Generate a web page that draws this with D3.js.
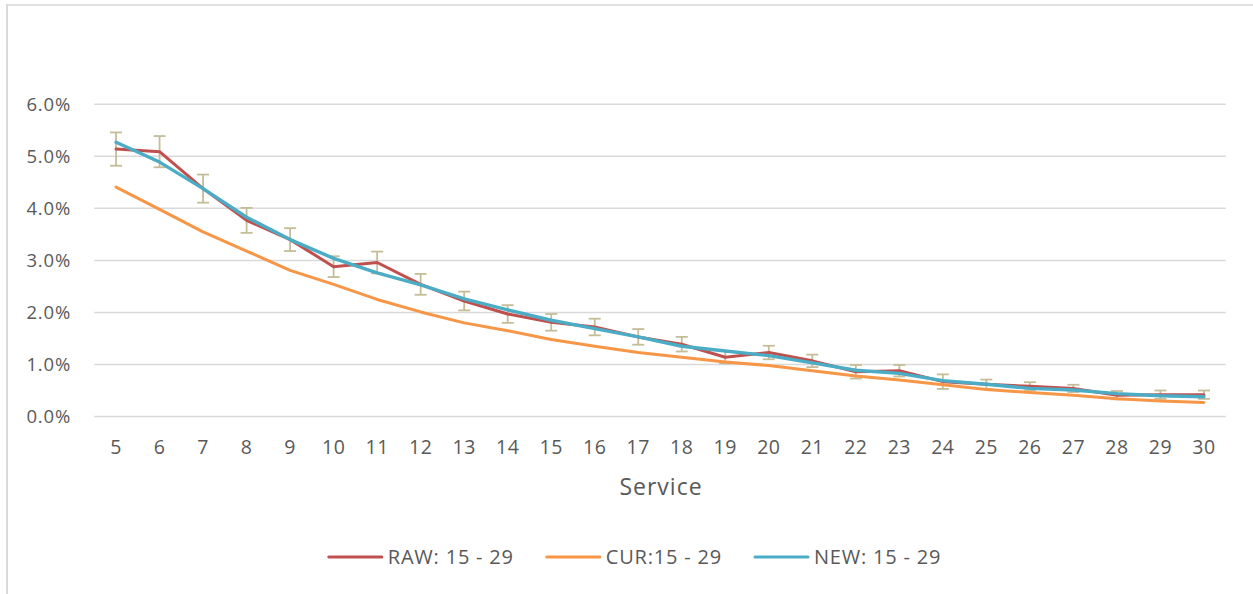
<!DOCTYPE html>
<html>
<head>
<meta charset="utf-8">
<script src="https://cdn.jsdelivr.net/npm/d3@7"></script>
<style>
  html, body { margin: 0; padding: 0; background: #ffffff; }
  svg { display: block; }
  text { font-family: "Open Sans", Lato, sans-serif; fill: #595959; }
</style>
</head>
<body>
<script>
// ---- data ----
const categories = [5,6,7,8,9,10,11,12,13,14,15,16,17,18,19,20,21,22,23,24,25,26,27,28,29,30];
const rawValues = [5.13,5.08,4.37,3.76,3.39,2.87,2.95,2.53,2.21,1.96,1.80,1.71,1.52,1.38,1.13,1.22,1.06,0.85,0.87,0.66,0.61,0.57,0.53,0.40,0.41,0.41];
const rawErrors = [0.32,0.30,0.27,0.24,0.22,0.20,0.21,0.20,0.18,0.17,0.16,0.16,0.15,0.14,0.12,0.13,0.12,0.13,0.11,0.14,0.09,0.08,0.07,0.08,0.08,0.08];
const curValues = [4.40,3.97,3.54,3.17,2.80,2.53,2.24,2.00,1.79,1.64,1.47,1.34,1.22,1.13,1.04,0.97,0.87,0.77,0.69,0.60,0.51,0.45,0.40,0.33,0.29,0.26];
const newValues = [5.26,4.88,4.37,3.82,3.39,3.03,2.75,2.52,2.25,2.04,1.84,1.68,1.52,1.34,1.25,1.16,1.02,0.88,0.82,0.68,0.61,0.53,0.50,0.43,0.39,0.37];
const yTicks = [0,1,2,3,4,5,6];
const seriesNames = ["RAW: 15 - 29", "CUR:15 - 29", "NEW: 15 - 29"];
const seriesColors = ["#c0504d", "#f79646", "#4bacc6"];
const xTitle = "Service";

// ---- layout ----
const W = 1253, H = 594;
const plot = { left: 94.3, right: 1225.7, top: 103.8, bottom: 416 };

const svg = d3.select("body").append("svg").attr("width", W).attr("height", H);

// outer border (left + top visible)
svg.append("line").attr("x1", 7).attr("x2", 7).attr("y1", 4.5).attr("y2", H)
  .attr("stroke", "#d9d9d9").attr("stroke-width", 2);
svg.append("line").attr("x1", 6).attr("x2", W).attr("y1", 5).attr("y2", 5)
  .attr("stroke", "#d9d9d9").attr("stroke-width", 1.5);

const x = d3.scaleBand().domain(categories).range([plot.left, plot.right]);
const y = d3.scaleLinear().domain([0, 6]).range([plot.bottom, plot.top]);
const cx = d => x(d) + x.bandwidth() / 2;

// gridlines + y labels
const yAxis = d3.axisLeft(y).tickValues(yTicks).tickSize(-(plot.right - plot.left))
  .tickFormat(d => d.toFixed(1) + "%").tickPadding(23);
const gy = svg.append("g").attr("transform", `translate(${plot.left},0)`).call(yAxis);
gy.select(".domain").remove();
gy.selectAll(".tick line").attr("stroke", "#d9d9d9").attr("stroke-width", 1.5);
gy.selectAll(".tick text").style("font-size", "18.5px").style("letter-spacing", "0.9px")
  .attr("fill", "#595959").attr("dy", "0.36em");

// x axis labels
const xAxis = d3.axisBottom(x).tickSize(0).tickPadding(24);
const gx = svg.append("g").attr("transform", `translate(0,${plot.bottom})`).call(xAxis);
gx.select(".domain").remove();
gx.selectAll(".tick text").style("font-size", "19.5px").style("letter-spacing", "0.5px")
  .attr("fill", "#595959");

// x title
svg.append("text").attr("x", 661).attr("y", 495).attr("text-anchor", "middle")
  .style("font-size", "23px").style("letter-spacing", "1px").text(xTitle);

// error bars on RAW
const eb = svg.append("g").attr("stroke", "#c4bd97").attr("stroke-width", 1.8).attr("fill", "none");
categories.forEach((c, i) => {
  const xc = cx(c), y1 = y(rawValues[i] + rawErrors[i]), y0 = y(rawValues[i] - rawErrors[i]);
  eb.append("line").attr("x1", xc).attr("x2", xc).attr("y1", y1).attr("y2", y0);
  eb.append("line").attr("x1", xc - 6).attr("x2", xc + 6).attr("y1", y1).attr("y2", y1);
  eb.append("line").attr("x1", xc - 6).attr("x2", xc + 6).attr("y1", y0).attr("y2", y0);
});

// lines
const line = d3.line().x((d, i) => cx(categories[i])).y(d => y(d));
[rawValues, curValues, newValues].forEach((vals, k) => {
  svg.append("path").datum(vals).attr("d", line).attr("fill", "none")
    .attr("stroke", seriesColors[k]).attr("stroke-width", k === 2 ? 3.4 : 3)
    .attr("stroke-linejoin", "round").attr("stroke-linecap", "round");
});

// legend
const lg = svg.append("g");
const items = [];
seriesNames.forEach((name, k) => {
  const g = lg.append("g");
  g.append("line").attr("x1", 0).attr("x2", 53).attr("y1", 0).attr("y2", 0)
    .attr("stroke", seriesColors[k]).attr("stroke-width", 3).attr("stroke-linecap", "round");
  const t = g.append("text").attr("x", 59).attr("y", 0).attr("dy", "0.35em")
    .style("font-size", "20px").style("letter-spacing", "0.8px").text(name);
  const w = 59 + t.node().getComputedTextLength();
  items.push({ g, w });
});
const gap = 33;
const total = d3.sum(items, d => d.w) + gap * (items.length - 1);
let start = 635 - total / 2;
items.forEach(it => {
  it.g.attr("transform", `translate(${start},557)`);
  start += it.w + gap;
});
</script>
</body>
</html>
